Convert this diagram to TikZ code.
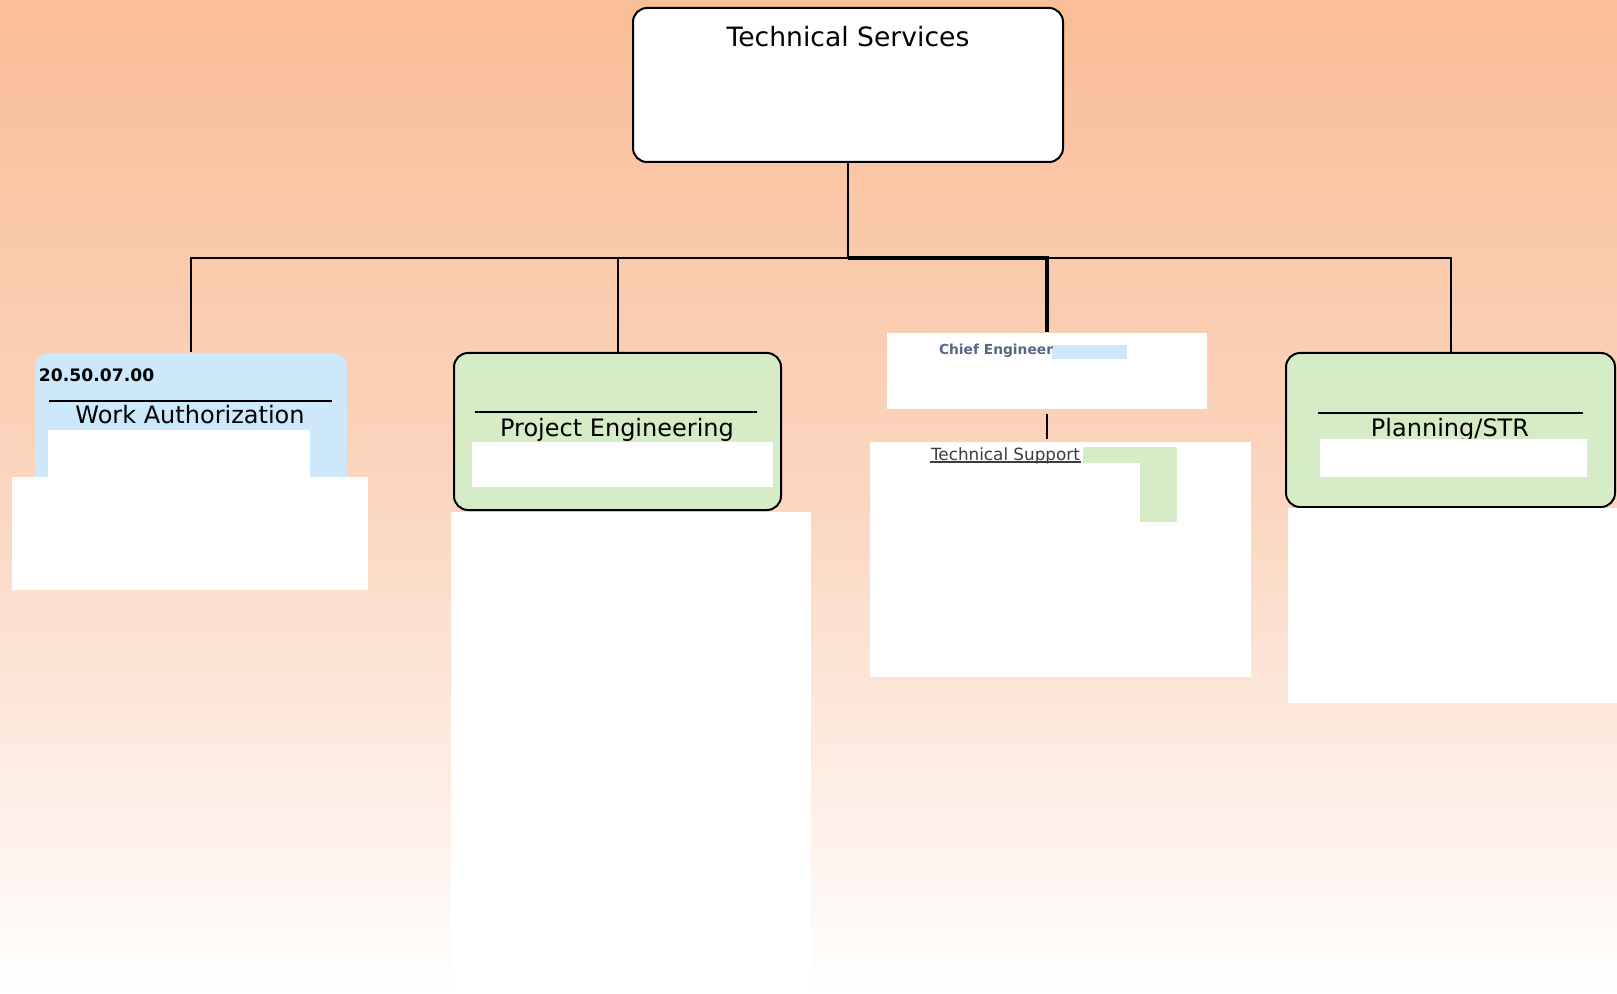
\documentclass[tikz,border=0pt]{standalone}
\usepackage{fontspec}
\setmainfont{DejaVu Sans}
\definecolor{peach}{RGB}{249,189,151}
\definecolor{peachmid}{RGB}{251,214,191}
\definecolor{unitgreen}{RGB}{214,236,198}
\definecolor{unitblue}{RGB}{204,232,250}
\definecolor{chieftext}{RGB}{84,104,134}
\definecolor{supporttext}{RGB}{60,60,60}
\tikzset{
	unitnode/.style = {
		rectangle,
		inner sep=0pt,
		rounded corners=7pt,
		line width=1pt
	},
	node_top/.style = {
		unitnode,
		draw=black,
		fill=white
	},
	node_green/.style = {
		unitnode,
		draw=black,
		fill=unitgreen
	},
	node_blue/.style = {
		unitnode,
		fill=unitblue
	},
	node_plain/.style = {
		rectangle,
		inner sep=0pt,
		fill=white
	},
	title_top/.style = {
		inner sep=0pt,
		anchor=base,
		font=\fontsize{13.3}{16}\selectfont
	},
	title_unit/.style = {
		inner sep=0pt,
		anchor=base,
		font=\fontsize{12}{14}\selectfont
	},
	title_small/.style = {
		inner sep=0pt,
		anchor=base west
	},
	rule_line/.style = {
		line width=0.6pt
	},
}

\begin{document}
\begin{tikzpicture}[x=0.5pt, y=-0.5pt, line width=1pt]
% background
\shade[top color=peach, bottom color=white, middle color=peachmid] (0,0) rectangle (1617,994);
\useasboundingbox (0,0) rectangle (1617,994);

% top unit
\node [node_top, minimum width=215pt, minimum height=77pt] (ts) at (848,85) {};
\node [title_top] (ts_t) at (848,47) {Technical Services};

% work authorization
\node [node_blue, minimum width=156pt, minimum height=68.5pt] (wa) at (191,421.5) {};
\fill [white] (48,430) rectangle (310,481);
\fill [white] (12,477) rectangle (368,590);
\node [title_small, font=\bfseries\fontsize{8.6}{10}\selectfont] (wa_n) at (38,382) {20.50.07.00};
\draw [rule_line] (49,401) -- (332,401);
\node [title_unit] (wa_t) at (190,423) {Work Authorization};

% project engineering
\node [node_green, minimum width=163.5pt, minimum height=78.5pt] (pe) at (617.5,431.5) {};
\draw [rule_line] (475,412) -- (757,412);
\node [title_unit] (pe_t) at (617,437) {Project Engineering};
\fill [white] (472,442) rectangle (773,487);
\fill [white] (451,512) rectangle (811,994);

% chief engineer / technical support
\node [node_plain, minimum width=160pt, minimum height=38pt] (ce) at (1047,371) {};
\fill [unitblue] (1052,345) rectangle (1127,359);
\node [title_small, text=chieftext, font=\bfseries\fontsize{6.9}{8}\selectfont] (ce_t) at (938,355) {Chief Engineer};
\node [node_plain, minimum width=190.5pt, minimum height=117.5pt] (tsup) at (1060.5,559.5) {};
\fill [unitgreen] (1083,447) rectangle (1177,463);
\fill [unitgreen] (1140,447) rectangle (1177,522);
\node [title_small, text=supporttext, font=\fontsize{8.4}{10}\selectfont] (tsup_t) at (930,460) {Technical Support};
\draw [supporttext, line width=0.7pt] ([yshift=-1pt]tsup_t.base west) -- ([yshift=-1pt]tsup_t.base east);

% planning
\node [node_green, minimum width=164.5pt, minimum height=77pt] (pl) at (1450.5,430) {};
\draw [rule_line] (1318,413) -- (1583,413);
\node [title_unit] (pl_t) at (1450,437) {Planning/STR};
\fill [white] (1320,439) rectangle (1587,477);
\fill [white] (1288,508) rectangle (1617,703);

% connectors
\coordinate (bus) at (848,258);
\draw (ts.south) -- (bus);
\foreach \n in {wa, pe, pl}
	\draw (bus) -| (\n.north);
\draw [line width=1.8pt] (bus) -| (ce.north);
\draw [shorten <=2pt, shorten >=1pt] (ce.south) -- (ce.south |- tsup.north);
\end{tikzpicture}
\end{document}
